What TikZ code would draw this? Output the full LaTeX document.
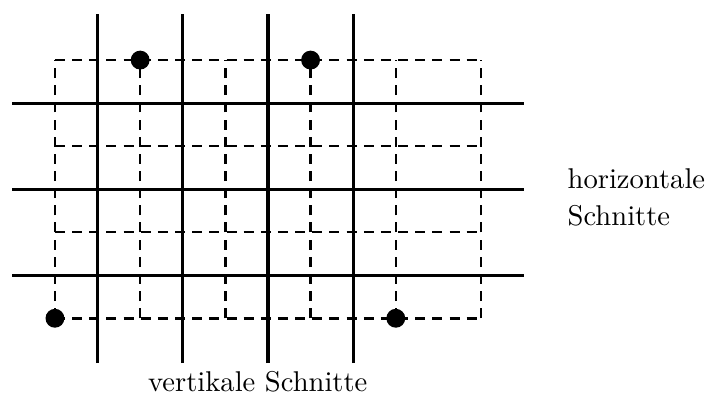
\documentclass[tikz,border=0pt]{standalone}
\usepackage{tikz}
\usetikzlibrary{positioning}

\begin{document}
\begin{tikzpicture}[x=29.8pt, y=30.1pt, every node/.style={font=\normalsize}]
\useasboundingbox (-0.645,-1.058) rectangle (7.711,3.698);
\draw[line width=0.9pt, dash pattern=on 3.5pt off 2.5pt, xstep=29.8pt, ystep=30.1pt] (0,0) grid (5,3);
\draw[line width=1.1pt] (0.5,-0.52) -- (0.5,3.53);
\draw[line width=1.1pt] (1.5,-0.52) -- (1.5,3.53);
\draw[line width=1.1pt] (2.5,-0.52) -- (2.5,3.53);
\draw[line width=1.1pt] (3.5,-0.52) -- (3.5,3.53);
\draw[line width=1.1pt] (-0.5,0.5) -- (5.5,0.5);
\draw[line width=1.1pt] (-0.5,1.5) -- (5.5,1.5);
\draw[line width=1.1pt] (-0.5,2.5) -- (5.5,2.5);
\node[circle, fill, inner sep=0pt, minimum size=6.6pt] (d1) at (1,3) {};
\node[circle, fill, inner sep=0pt, minimum size=6.6pt] (d2) at (3,3) {};
\node[circle, fill, inner sep=0pt, minimum size=6.6pt] (d3) at (0,0) {};
\node[circle, fill, inner sep=0pt, minimum size=6.6pt] (d4) at (4,0) {};
\node[align=left, inner sep=0pt, anchor=north west] (h) at (6.01,1.744) {horizontale\\[1pt]Schnitte};
\node[anchor=base] (v) at (2.38,-0.85) {vertikale Schnitte};
\end{tikzpicture}
\end{document}
